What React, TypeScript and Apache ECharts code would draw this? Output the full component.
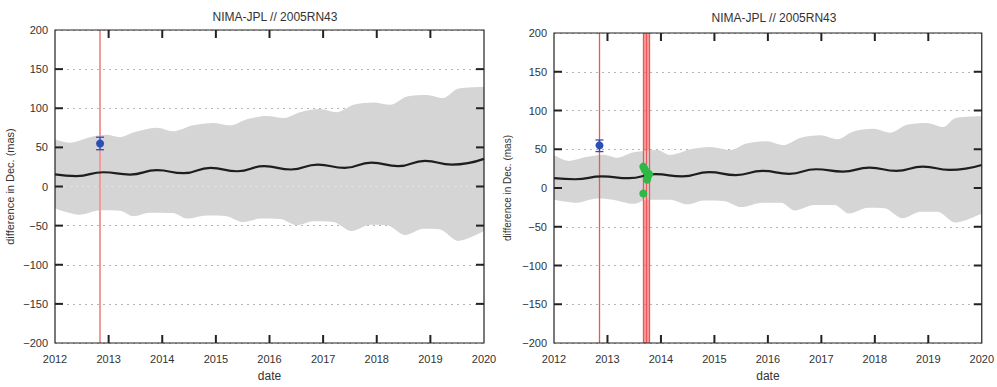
import React, { useEffect, useRef } from "react";
import * as echarts from "echarts";

const titleText = "NIMA-JPL // 2005RN43";
const yName = "difference in Dec. (mas)";
const xName = "date";

const xTickValues = [2013, 2014, 2015, 2016, 2017, 2018, 2019];
const yTickValues = [-150, -100, -50, 0, 50, 100, 150];

// Left panel
const leftUpper = [[2012.0,60],[2012.28,56],[2012.65,63],[2012.96,66],[2013.21,63],[2013.46,69],[2013.9,75],[2014.2,70.5],[2014.56,78],[2014.95,81],[2015.26,78],[2015.58,86],[2015.95,90],[2016.26,87.5],[2016.57,95],[2016.94,99],[2017.25,95],[2017.57,104.5],[2017.94,107.5],[2018.25,104.5],[2018.56,115],[2018.93,117],[2019.24,113],[2019.5,124.5],[2020,127]];
const leftLower = [[2012.0,-28],[2012.47,-36],[2012.84,-30.5],[2013.21,-31],[2013.46,-38],[2013.77,-33.5],[2014.2,-34],[2014.46,-41],[2014.83,-37],[2015.2,-38],[2015.51,-45.5],[2015.83,-41],[2016.2,-41.5],[2016.51,-49.5],[2016.82,-44.5],[2017.19,-45.5],[2017.53,-57],[2017.88,-49],[2018.19,-49.5],[2018.53,-62],[2018.87,-54],[2019.18,-55],[2019.52,-69.5],[2020,-57]];
const leftCenter = [[2012,15.5],[2012.4,13.3],[2012.9,18.2],[2013.4,15.3],[2013.9,20.8],[2014.4,17],[2014.9,23.8],[2015.4,19.5],[2015.9,26],[2016.4,21.7],[2016.9,28],[2017.4,23.8],[2017.9,30.5],[2018.4,26],[2018.9,32.7],[2019.4,28],[2020,35.3]];
const leftObs = [[2012.84, 55, 47, 63]]; // x, value, low, high
const leftRedLines = [2012.84];

// Right panel
const rightUpper = [[2012,42.5],[2012.27,35],[2012.62,40.3],[2012.93,43],[2013.18,39],[2013.49,46],[2013.93,49],[2014.17,42.5],[2014.55,50],[2014.92,53],[2015.3,49],[2015.6,57.3],[2015.98,60.3],[2016.29,55.2],[2016.6,64.5],[2016.98,68],[2017.3,63],[2017.6,73],[2017.97,76.4],[2018.29,71.3],[2018.6,81.5],[2018.97,84],[2019.28,78.6],[2019.5,90],[2020,92.6]];
const rightLower = [[2012,-15],[2012.43,-19],[2012.8,-13.6],[2013.1,-15],[2013.49,-20.4],[2013.75,-15],[2014.17,-15],[2014.5,-21],[2014.8,-16],[2015.2,-17],[2015.5,-24.6],[2015.9,-19],[2016.25,-19],[2016.5,-29],[2016.87,-22],[2017.24,-22],[2017.52,-33],[2017.87,-25.5],[2018.18,-26],[2018.52,-39],[2018.86,-30.6],[2019.17,-30.6],[2019.51,-44.6],[2020,-33]];
const rightCenter = [[2012,12.7],[2012.4,11.3],[2012.9,14.9],[2013.4,12.7],[2013.9,17.8],[2014.4,14.9],[2014.9,20.4],[2015.4,16.6],[2015.9,22],[2016.4,18.3],[2016.9,24.2],[2017.4,21.2],[2017.9,26.3],[2018.4,22],[2018.9,27.6],[2019.4,23.4],[2020,29.7]];
const rightObs = [[2012.85, 55, 47, 62]];
const rightRedLines = [2012.85, 2013.67, 2013.725, 2013.78];
const rightRedBand = [2013.665, 2013.785];
const rightGreen = [[2013.67,27.6],[2013.69,25],[2013.70,23.3],[2013.74,20.4],[2013.78,17.8],[2013.75,13.6],[2013.74,10.6],[2013.67,-7.2]];

const FONT = "Liberation Sans, Arial, sans-serif";
const TXT = "#333";
const BAND = "#d5d5d5";

function axesFor(gi: number, nameGapY: number, yNameSize: number) {
  const xs = [
    {
      gridIndex: gi, type: "value", min: 2012, max: 2020, interval: 1, position: "bottom",
      axisLine: { show: false }, axisTick: { show: false },
      axisLabel: { color: TXT, fontSize: 11, fontFamily: FONT, margin: 10, formatter: (v: number) => String(v) },
      splitLine: { show: false },
      name: xName, nameLocation: "middle", nameGap: 27,
      nameTextStyle: { color: TXT, fontSize: 12, fontFamily: FONT },
    },
  ];
  const ys = [
    {
      gridIndex: gi, type: "value", min: -200, max: 200, interval: 50, position: "left",
      axisLine: { show: false }, axisTick: { show: false },
      axisLabel: {
        color: TXT, fontSize: 11, fontFamily: FONT, margin: 7,
        formatter: (v: number) => String(v).replace("-", "\u2212"),
      },
      splitLine: { show: true, lineStyle: { color: "#b5b5b5", type: [2, 4], width: 1 } },
      name: yName, nameLocation: "middle", nameGap: nameGapY,
      nameTextStyle: { color: TXT, fontSize: yNameSize, fontFamily: FONT },
    },
  ];
  return { xs, ys };
}

function errRender(color: string) {
  return (params: any, api: any) => {
    const x = api.value(0);
    const p = api.coord([x, api.value(1)]);
    const lo = api.coord([x, api.value(2)]);
    const hi = api.coord([x, api.value(3)]);
    const st = { stroke: color, lineWidth: 1.3 };
    return {
      type: "group",
      children: [
        { type: "line", shape: { x1: lo[0], y1: lo[1], x2: hi[0], y2: hi[1] }, style: st },
        { type: "line", shape: { x1: lo[0] - 4, y1: lo[1], x2: lo[0] + 4, y2: lo[1] }, style: st },
        { type: "line", shape: { x1: hi[0] - 4, y1: hi[1], x2: hi[0] + 4, y2: hi[1] }, style: st },
        { type: "circle", shape: { cx: p[0], cy: p[1], r: 4 }, style: { fill: "#2c4fb5" } },
      ],
    };
  };
}

// Frame and inside tick marks drawn with the axes' own scale (api.coord)
const TICK_PX = 8;
function frameRender(params: any, api: any) {
  const tl = api.coord([2012, 200]);
  const br = api.coord([2020, -200]);
  const kids: any[] = [
    { type: "rect", shape: { x: tl[0], y: tl[1], width: br[0] - tl[0], height: br[1] - tl[1] }, style: { stroke: "#222", lineWidth: 1.2, fill: "none" } },
  ];
  xTickValues.forEach((v) => {
    const p = api.coord([v, 0]);
    kids.push({ type: "rect", shape: { x: p[0] - 1, y: br[1] - TICK_PX, width: 2, height: TICK_PX }, style: { fill: "#222" } });
    kids.push({ type: "rect", shape: { x: p[0] - 1, y: tl[1], width: 2, height: TICK_PX }, style: { fill: "#222" } });
  });
  yTickValues.forEach((v) => {
    const p = api.coord([2016, v]);
    kids.push({ type: "rect", shape: { x: tl[0], y: p[1] - 1, width: TICK_PX, height: 2 }, style: { fill: "#222" } });
    kids.push({ type: "rect", shape: { x: br[0] - TICK_PX, y: p[1] - 1, width: TICK_PX, height: 2 }, style: { fill: "#222" } });
  });
  return { type: "group", children: kids };
}

function panelSeries(gi: number, upper: number[][], lower: number[][], center: number[][], obs: number[][], redLines: number[], redColor: string, redWidth: number) {
  const ax = gi;
  const band = (d: number[][]) => ({
    type: "line", xAxisIndex: ax, yAxisIndex: ax, data: d, smooth: 0.3, symbol: "none",
    lineStyle: { width: 0, color: BAND }, areaStyle: { color: BAND, opacity: 1, origin: 0 }, z: 1, silent: true,
  });
  return [
    band(upper),
    band(lower),
    {
      type: "line", xAxisIndex: ax, yAxisIndex: ax, data: center, smooth: 0.5, symbol: "none",
      lineStyle: { color: "#1e1e1e", width: 2.2 }, z: 5, silent: true,
    },
    {
      type: "line", xAxisIndex: ax, yAxisIndex: ax, data: [], z: 6, silent: true,
      markLine: {
        symbol: "none", silent: true, label: { show: false },
        lineStyle: { color: redColor, width: redWidth, type: "solid" },
        data: redLines.map((v) => ({ xAxis: v })),
      },
    },
    {
      type: "custom", xAxisIndex: ax, yAxisIndex: ax, data: obs, renderItem: errRender("#2c4fb5"), z: 8, silent: true,
    },
    {
      type: "custom", xAxisIndex: ax, yAxisIndex: ax, data: [[2016, 0]], renderItem: frameRender, z: 10, silent: true, clip: false,
    },
  ];
}

export default function App() {
  const ref = useRef<HTMLDivElement>(null);
  useEffect(() => {
    if (!ref.current) return;
    const chart = echarts.init(ref.current, null, { renderer: "svg" });
    const L = axesFor(0, 40, 11);
    const R = axesFor(1, 42, 10);
    const series: any[] = [
      ...panelSeries(0, leftUpper, leftLower, leftCenter, leftObs, leftRedLines, "#f39a9a", 2),
      ...panelSeries(1, rightUpper, rightLower, rightCenter, rightObs, rightRedLines, "#ee5555", 1.3),
      {
        type: "line", xAxisIndex: 1, yAxisIndex: 1, data: [], z: 6, silent: true,
        markArea: {
          silent: true, itemStyle: { color: "rgba(240,100,100,0.6)" },
          data: [[{ xAxis: rightRedBand[0] }, { xAxis: rightRedBand[1] }]],
        },
      },
      {
        type: "scatter", xAxisIndex: 1, yAxisIndex: 1, data: rightGreen, symbolSize: 8,
        itemStyle: { color: "#2fb845", opacity: 1 }, z: 9, silent: true,
      },
    ];
    chart.setOption({
      animation: false,
      backgroundColor: "#ffffff",
      title: [
        { text: titleText, left: 270, top: 6, textAlign: "center", textStyle: { fontSize: 12, fontWeight: "normal", color: TXT, fontFamily: FONT } },
        { text: titleText, left: 769, top: 7, textAlign: "center", textStyle: { fontSize: 12, fontWeight: "normal", color: TXT, fontFamily: FONT } },
      ],
      grid: [
        { left: 55, top: 30, width: 429, height: 314 },
        { left: 554, top: 33, width: 428, height: 314 },
      ],
      xAxis: [...L.xs, ...R.xs],
      yAxis: [...L.ys, ...R.ys],
      series,
    });
    return () => chart.dispose();
  }, []);
  return <div ref={ref} style={{ position: "fixed", left: 0, top: 0, width: 997, height: 387 }} />;
}
